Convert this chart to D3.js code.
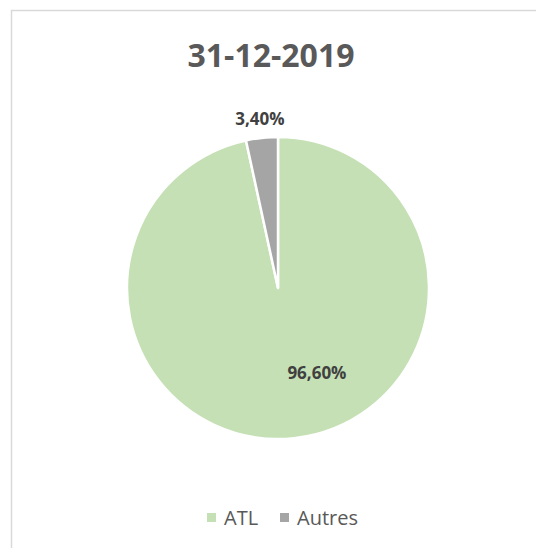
<!DOCTYPE html>
<html>
<head>
<meta charset="utf-8">
<script src="https://cdn.jsdelivr.net/npm/d3@7"></script>
<style>
  html, body { margin: 0; background: #ffffff; overflow: hidden; }
  svg { display: block; }
</style>
</head>
<body>
<div id="chart"></div>
<script>
// Data
var title = '31-12-2019';
var categories = ['ATL', 'Autres'];
var values = [96.6, 3.4];
var colors = ['#c5e0b4', '#a5a5a5'];

var chart_width = 536;
var chart_height = 548;
var cx = 278, cy = 288, radius = 151;

var svg = d3.select('#chart')
    .append('svg')
    .attr('width', chart_width)
    .attr('height', chart_height);

// chart border (only top and left edges are visible in the frame)
svg.append('rect')
    .attr('x', 11.5)
    .attr('y', 10.5)
    .attr('width', 600)
    .attr('height', 600)
    .attr('fill', '#ffffff')
    .attr('stroke', '#d9d9d9')
    .attr('stroke-width', 1.5);

// title
svg.append('text')
    .text(title)
    .attr('x', 271)
    .attr('y', 67)
    .attr('text-anchor', 'middle')
    .attr('font-family', 'Open Sans, sans-serif')
    .attr('font-weight', 'bold')
    .attr('font-size', 32)
    .attr('fill', '#595959');

var data = categories.map(function(c, i) {
    return { name: c, value: values[i] };
});

var pie = d3.pie()
    .sort(null)
    .value(function(d) { return d.value; });

var arcs = pie(data);

var arc = d3.arc()
    .innerRadius(0)
    .outerRadius(radius);

var g = svg.append('g')
    .attr('transform', 'translate(' + cx + ',' + cy + ')');

g.selectAll('path')
    .data(arcs)
    .enter()
    .append('path')
    .attr('d', arc)
    .attr('fill', function(d, i) { return colors[i]; })
    .attr('stroke', '#ffffff')
    .attr('stroke-width', 2.5)
    .attr('stroke-linejoin', 'round');

// data labels: big slice inside, small slice outside
function labelPos(d) {
    var big = (d.endAngle - d.startAngle) > Math.PI;
    var a = big ? d.startAngle + 0.447 * (d.endAngle - d.startAngle)
                : (d.startAngle + d.endAngle) / 2;
    var r = big ? radius * 0.62 : radius + 19;
    return [r * Math.sin(a), -r * Math.cos(a)];
}

g.selectAll('text.lbl')
    .data(arcs)
    .enter()
    .append('text')
    .attr('class', 'lbl')
    .text(function(d) {
        return d.data.value.toFixed(2).replace('.', ',') + '%';
    })
    .attr('x', function(d) { return labelPos(d)[0]; })
    .attr('y', function(d) { return labelPos(d)[1]; })
    .attr('dy', '0.35em')
    .attr('text-anchor', 'middle')
    .attr('font-family', 'Open Sans, sans-serif')
    .attr('font-weight', 'bold')
    .attr('font-size', 17)
    .attr('fill', '#404040');

// legend
var legend = svg.append('g')
    .attr('transform', 'translate(0,518)');

var legend_x = [207, 280];

var items = legend.selectAll('g')
    .data(categories)
    .enter()
    .append('g')
    .attr('transform', function(d, i) { return 'translate(' + legend_x[i] + ',0)'; });

items.append('rect')
    .attr('x', 0)
    .attr('y', -5)
    .attr('width', 9)
    .attr('height', 9)
    .attr('fill', function(d, i) { return colors[i]; });

items.append('text')
    .text(function(d) { return d; })
    .attr('x', 17)
    .attr('y', 0)
    .attr('dy', '0.35em')
    .attr('font-family', 'Open Sans, sans-serif')
    .attr('font-size', 20)
    .attr('fill', '#595959');
</script>
</body>
</html>
